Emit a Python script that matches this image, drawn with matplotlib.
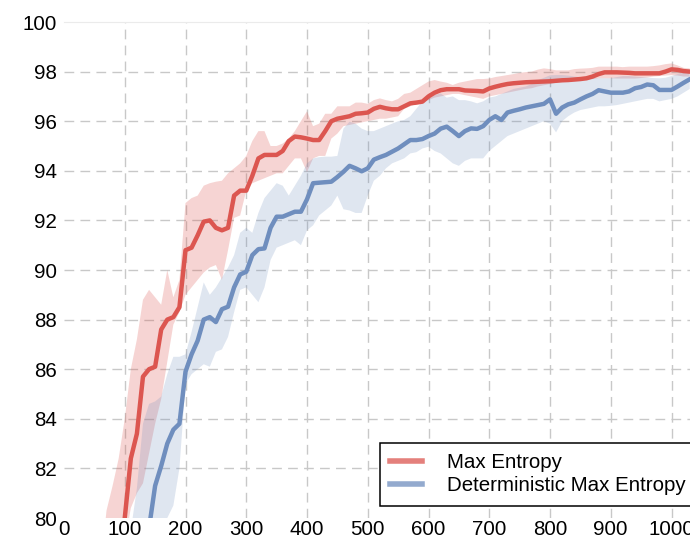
import numpy as np
import matplotlib
matplotlib.use("Agg")
import matplotlib.pyplot as plt

# training step (x axis)
steps = np.arange(60, 1040, 10)

# Max Entropy: mean and band
max_ent = [
    72.0, 74.0, 76.0, 78.0, 80.0, 82.4, 83.4, 85.7, 86.0, 86.1,
    87.6, 88.0, 88.1, 88.5, 90.8, 90.9, 91.4, 91.95, 92.0, 91.7,
    91.6, 91.7, 93.0, 93.2, 93.2, 93.8, 94.5, 94.64, 94.64, 94.64,
    94.8, 95.2, 95.38, 95.35, 95.3, 95.24, 95.24, 95.6, 96.0, 96.1,
    96.15, 96.2, 96.3, 96.32, 96.35, 96.5, 96.58, 96.52, 96.48, 96.48,
    96.6, 96.72, 96.75, 96.79, 97.0, 97.15, 97.25, 97.29, 97.29, 97.29,
    97.24, 97.23, 97.22, 97.2, 97.32, 97.39, 97.45, 97.5, 97.53, 97.55,
    97.57, 97.58, 97.59, 97.6, 97.61, 97.63, 97.65, 97.66, 97.68, 97.7,
    97.73, 97.8, 97.9, 97.97, 97.97, 97.97, 97.96, 97.95, 97.93, 97.93,
    97.93, 97.93, 97.93, 98.0, 98.09, 98.07, 98.02, 98.0,
]
max_ent_hi = [
    78.0, 80.3, 81.3, 82.4, 84.0, 86.0, 87.2, 88.8, 89.2, 88.9,
    88.6, 90.0, 88.9, 89.6, 92.7, 92.9, 93.0, 93.4, 93.5, 93.56,
    93.6, 93.9, 94.1, 94.3, 94.6, 95.2, 95.6, 95.6, 95.0, 95.0,
    95.1, 95.3, 95.6, 96.0, 96.4, 95.8, 95.9, 96.3, 96.3, 96.6,
    96.6, 96.6, 96.75, 96.75, 96.7, 96.85, 96.92, 96.85, 96.8, 96.9,
    97.1, 97.15, 97.3, 97.45, 97.6, 97.66, 97.6, 97.55, 97.46, 97.55,
    97.6, 97.65, 97.7, 97.7, 97.72, 97.78, 97.82, 97.86, 97.9, 97.95,
    97.98, 98.0, 98.08, 98.13, 98.1, 98.05, 98.05, 98.05, 98.1, 98.12,
    98.13, 98.15, 98.2, 98.2, 98.2, 98.2, 98.18, 98.2, 98.2, 98.2,
    98.2, 98.22, 98.25, 98.3, 98.33, 98.25, 98.15, 98.13,
]
max_ent_lo = [
    70.0, 73.0, 75.0, 77.0, 79.0, 80.4, 81.0, 81.4, 82.6, 83.8,
    84.8, 86.3, 87.8, 88.3, 89.0, 89.3, 89.6, 89.9, 90.1, 90.2,
    89.6, 90.8, 92.1, 92.2, 93.2, 93.5, 93.6, 93.7, 93.8, 93.9,
    93.9, 94.2, 94.5, 94.5, 93.95, 94.5, 94.6, 94.6, 95.3, 95.5,
    95.8, 95.85, 95.9, 95.95, 96.0, 96.05, 96.1, 96.1, 96.15, 96.2,
    96.5, 96.6, 96.7, 96.79, 96.85, 96.95, 97.0, 97.05, 97.1, 97.1,
    97.05, 97.0, 96.95, 96.9, 97.0, 97.05, 97.1, 97.15, 97.2, 97.25,
    97.3, 97.33, 97.4, 97.45, 97.5, 97.55, 97.6, 97.62, 97.65, 97.66,
    97.68, 97.7, 97.73, 97.73, 97.73, 97.72, 97.72, 97.72, 97.72, 97.74,
    97.76, 97.8, 97.82, 97.84, 97.86, 97.84, 97.8, 97.8,
]

# Deterministic Max Entropy: mean and band
det_ent = [
    68.0, 70.0, 72.0, 73.5, 75.0, 76.5, 77.5, 78.5, 79.6, 81.3,
    82.1, 83.0, 83.56, 83.8, 85.9, 86.6, 87.15, 88.0, 88.1, 87.9,
    88.42, 88.52, 89.3, 89.82, 89.93, 90.6, 90.84, 90.87, 91.7, 92.15,
    92.15, 92.25, 92.35, 92.35, 92.85, 93.5, 93.52, 93.54, 93.56, 93.75,
    93.96, 94.2, 94.1, 93.98, 94.1, 94.45, 94.55, 94.64, 94.77, 94.9,
    95.07, 95.24, 95.24, 95.28, 95.4, 95.5, 95.7, 95.78, 95.6, 95.4,
    95.6, 95.71, 95.69, 95.8, 96.05, 96.2, 96.05, 96.35, 96.42, 96.48,
    96.55, 96.6, 96.65, 96.7, 96.88, 96.3, 96.55, 96.68, 96.75, 96.88,
    97.0, 97.1, 97.25, 97.2, 97.15, 97.15, 97.15, 97.2, 97.33, 97.38,
    97.48, 97.45, 97.26, 97.26, 97.26, 97.4, 97.55, 97.69,
]
det_ent_hi = [
    74.0, 75.0, 76.0, 77.0, 78.0, 79.5, 81.2, 83.8, 84.6, 84.7,
    84.9, 85.8, 86.5, 86.5, 86.6, 87.5, 88.5, 89.5, 89.0, 89.3,
    89.7, 90.1, 90.6, 91.5, 91.7, 91.5, 92.3, 92.9, 93.2, 93.5,
    93.4, 93.0, 93.4, 93.8, 94.3, 94.5, 94.55, 94.57, 94.57, 94.6,
    95.7, 95.98, 95.9, 95.7, 95.6, 95.6, 95.7, 95.8, 95.9, 96.0,
    96.05, 96.2, 96.5, 96.8, 96.9, 97.05, 97.12, 96.95, 97.0, 96.85,
    96.85, 96.8, 96.72, 96.8, 96.95, 97.0, 97.1, 97.2, 97.3, 97.35,
    97.4, 97.5, 97.65, 97.75, 97.85, 97.86, 97.86, 97.84, 97.8, 97.78,
    97.76, 97.74, 97.73, 97.73, 97.73, 97.78, 97.82, 97.82, 97.8, 97.78,
    97.76, 97.74, 97.73, 97.75, 97.82, 97.9, 97.96, 98.0,
]
det_ent_lo = [
    64.0, 66.0, 68.0, 70.0, 71.5, 73.0, 74.5, 76.0, 77.0, 78.2,
    79.2, 80.0, 80.5, 82.0, 85.4, 85.8, 86.0, 86.2, 86.1, 86.7,
    86.8, 87.3, 88.3, 89.2, 89.3, 89.0, 88.7, 89.3, 90.4, 90.9,
    91.0, 91.1, 91.2, 91.0, 91.6, 91.8, 92.2, 92.4, 92.6, 93.0,
    92.45, 92.4, 92.3, 92.3, 93.0, 93.6, 93.8, 94.1, 94.3, 94.4,
    94.5, 94.7, 94.75, 94.9, 94.97, 94.8, 94.7, 94.5, 94.3, 94.2,
    94.4, 94.5, 94.5, 94.5, 94.8, 95.0, 95.2, 95.4, 95.5, 95.6,
    95.7, 95.8, 95.9, 96.0, 95.9, 95.55, 96.0, 96.2, 96.35, 96.45,
    96.5, 96.55, 96.6, 96.6, 96.62, 96.65, 96.7, 96.75, 96.8, 96.85,
    96.9, 96.9, 96.8, 96.85, 96.9, 97.0, 97.15, 97.3,
]

red = "#dc5650"
blue = "#6f8ebe"

plt.rcParams["font.family"] = ["Liberation Sans", "DejaVu Sans"]

fig = plt.figure(figsize=(6.9, 5.42), dpi=100)
# axes runs past the right edge of the figure, as in the reference crop
ax = fig.add_axes([64 / 690, 24 / 542, 1100 * 0.6075 / 690, 496 / 542])

ax.fill_between(steps, max_ent_lo, max_ent_hi, color=red, alpha=0.25, lw=0)
ax.fill_between(steps, det_ent_lo, det_ent_hi, color=blue, alpha=0.22, lw=0)
ax.plot(steps, max_ent, color=red, lw=3.2, label="Max Entropy")
ax.plot(steps, det_ent, color=blue, lw=3.2, label="Deterministic Max Entropy")

ax.set_xlim(0, 1100)
ax.set_ylim(80, 100)
ax.set_xticks(np.arange(0, 1001, 100))
ax.set_yticks(np.arange(80, 101, 2))
ax.tick_params(axis="y", length=0, labelsize=14.8, pad=5)
ax.tick_params(axis="x", length=0, labelsize=14.8, pad=1.5)

ax.grid(True, color="#c8c8c8", linestyle=(0, (7, 4.5)), linewidth=1.0)
ax.set_axisbelow(True)
ax.xaxis.get_gridlines()[0].set_visible(False)
ax.yaxis.get_gridlines()[0].set_visible(False)
ax.yaxis.get_gridlines()[-1].set_visible(False)

for side in ["left", "right", "bottom"]:
    ax.spines[side].set_visible(False)
ax.spines["top"].set_color("#ebebeb")
ax.spines["top"].set_linewidth(0.8)

leg = ax.legend(loc="upper left", bbox_to_anchor=(380 / 690, 1 - 443 / 542),
                bbox_transform=fig.transFigure, borderaxespad=0,
                fontsize=14.8, handlelength=1.55, handletextpad=1.2,
                borderpad=0.5, labelspacing=0.2, fancybox=False)
leg.get_frame().set_edgecolor("black")
leg.get_frame().set_linewidth(1.1)
leg.get_frame().set_alpha(1)
for h in leg.get_lines():
    h.set_alpha(0.75)
    h.set_linewidth(4)

fig.savefig("out.png", dpi=100)
